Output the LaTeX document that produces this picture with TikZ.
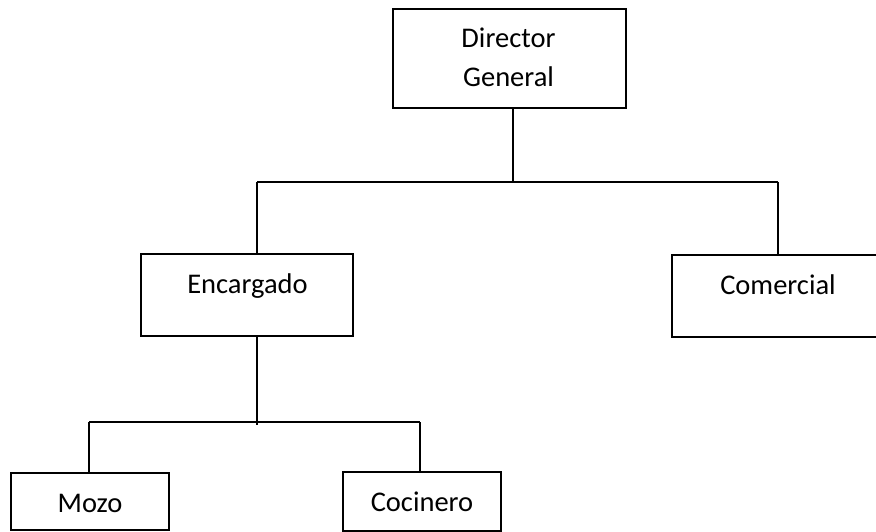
\documentclass[tikz,border=0pt]{standalone}
\usepackage{fontspec}
\setmainfont{Carlito}
\begin{document}
\begin{tikzpicture}[x=1bp,y=-1bp,
  box/.style={draw=black,line width=2bp,rectangle,inner sep=0pt},
  lbl/.style={inner sep=0pt,anchor=base,font=\fontsize{28.5bp}{39bp}\selectfont},
  conn/.style={draw=black,line width=2bp}]
\useasboundingbox (0,0) rectangle (876,532);
% boxes
\node[box,minimum width=233bp,minimum height=99bp] (dg) at (509.5,58.5) {};
\node[box,minimum width=212bp,minimum height=82bp] (enc) at (247,295) {};
\node[box,minimum width=206bp,minimum height=82bp] (com) at (775,296) {};
\node[box,minimum width=157bp,minimum height=57bp] (mozo) at (90,501.5) {};
\node[box,minimum width=158bp,minimum height=59bp] (coc) at (422,501.5) {};
% texts
\node[lbl] (dgt1) at (508.5,48) {Director};
\node[lbl] (dgt2) at (508.5,87) {General};
\node[lbl] (enct) at (247.5,294) {Encargado};
\node[lbl] (comt) at (778,295) {Comercial};
\node[lbl] (mozot) at (90,512) {Mozo};
\node[lbl] (coct) at (422,511) {Cocinero};
% junctions
\coordinate (j1) at (513,182);
\coordinate (jl) at (257,182);
\coordinate (jr) at (778,182);
\coordinate (j2) at (257,422);
\coordinate (j2l) at (89,422);
\coordinate (j2r) at (420,422);
% connectors
\draw[conn] (dg.south -| j1) -- (j1);
\draw[conn] (jl) -- (jr);
\draw[conn] (jl) -- (enc.north -| jl);
\draw[conn] (jr) -- (com.north -| jr);
\draw[conn] (enc.south -| j2) -- ([yshift=-3bp]j2);
\draw[conn] (j2l) -- (j2r);
\draw[conn] (j2l) -- (mozo.north -| j2l);
\draw[conn] (j2r) -- (coc.north -| j2r);
\end{tikzpicture}
\end{document}
